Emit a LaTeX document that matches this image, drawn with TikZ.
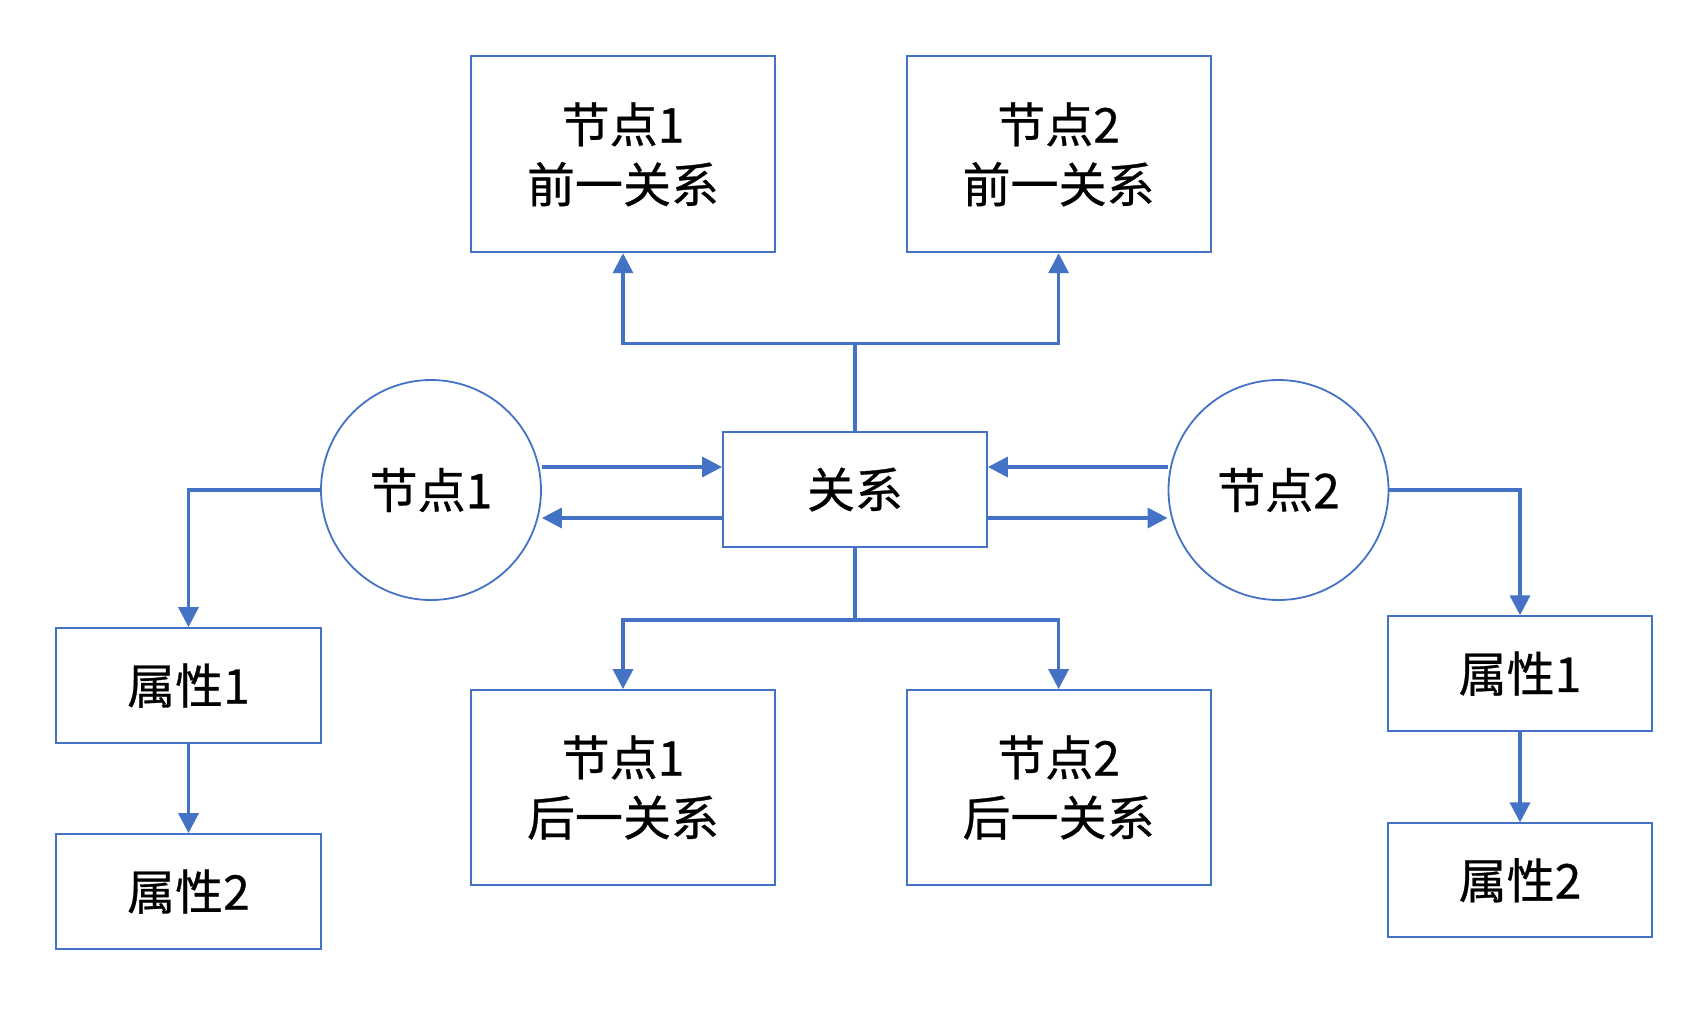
\documentclass[tikz,border=0pt]{standalone}
\usepackage{fontspec}
\newfontfamily\cjk[FakeBold=0.6]{Noto Sans CJK SC}
\usetikzlibrary{arrows.meta,calc}
\definecolor{bl}{HTML}{4472C4}
\begin{document}
\begin{tikzpicture}[x=1pt,y=-1pt,
  box/.style={draw=bl,line width=1.8pt,rectangle,inner sep=0pt,align=center,
     font=\cjk\fontsize{48}{60}\selectfont},
  circ/.style={draw=bl,line width=1.8pt,circle,minimum size=220pt,inner sep=0pt,
     font=\cjk\fontsize{48}{60}\selectfont},
  arr/.style={draw=bl,line width=3.4pt,-{Triangle[length=20pt,width=20pt]}},
  ln/.style={draw=bl,line width=3.4pt}]
\useasboundingbox (0,0) rectangle (1699,1010);
\node[box,minimum width=304pt,minimum height=196pt] (pre1) at (623,154.3) {节点1\\前一关系};
\node[box,minimum width=304pt,minimum height=196pt] (pre2) at (1058.6,154.3) {节点2\\前一关系};
\node[box,minimum width=264pt,minimum height=115pt] (rel) at (855,489.5) {关系};
\node[circ] (n1) at (431,490) {节点1};
\node[circ] (n2) at (1278.5,490) {节点2};
\node[box,minimum width=265pt,minimum height=115pt] (a1L) at (188.5,685.5) {属性1};
\node[box,minimum width=265pt,minimum height=115pt] (a2L) at (188.5,891.5) {属性2};
\node[box,minimum width=304pt,minimum height=195pt] (post1) at (623,787.5) {节点1\\后一关系};
\node[box,minimum width=304pt,minimum height=195pt] (post2) at (1058.6,787.5) {节点2\\后一关系};
\node[box,minimum width=264pt,minimum height=115pt] (a1R) at (1520,673.7) {属性1};
\node[box,minimum width=264pt,minimum height=114pt] (a2R) at (1520,880.3) {属性2};
% tree connectors
\coordinate (jt) at ($(rel.north |- 0,343.5)$);
\coordinate (jb) at ($(rel.south |- 0,620)$);
\draw[ln] (rel.north) -- (jt);
\draw[arr] (jt) -| (pre1.south);
\draw[arr] (jt) -| (pre2.south);
\draw[ln] (rel.south) -- (jb);
\draw[arr] (jb) -| (post1.north);
\draw[arr] (jb) -| (post2.north);
% node <-> relation
\draw[arr] ([yshift=23pt]n1.east) -- ([yshift=23pt]n1.east -| rel.west);
\draw[arr] ([yshift=-28pt]n1.east -| rel.west) -- ([yshift=-28pt]n1.east);
\draw[arr] ([yshift=23pt]n2.west) -- ([yshift=23pt]n2.west -| rel.east);
\draw[arr] ([yshift=-28pt]n2.west -| rel.east) -- ([yshift=-28pt]n2.west);
% attributes
\draw[arr] (n1.west) -| (a1L.north);
\draw[arr] (a1L.south) -- (a2L.north);
\draw[arr] (n2.east) -| (a1R.north);
\draw[arr] (a1R.south) -- (a2R.north);
\end{tikzpicture}
\end{document}
